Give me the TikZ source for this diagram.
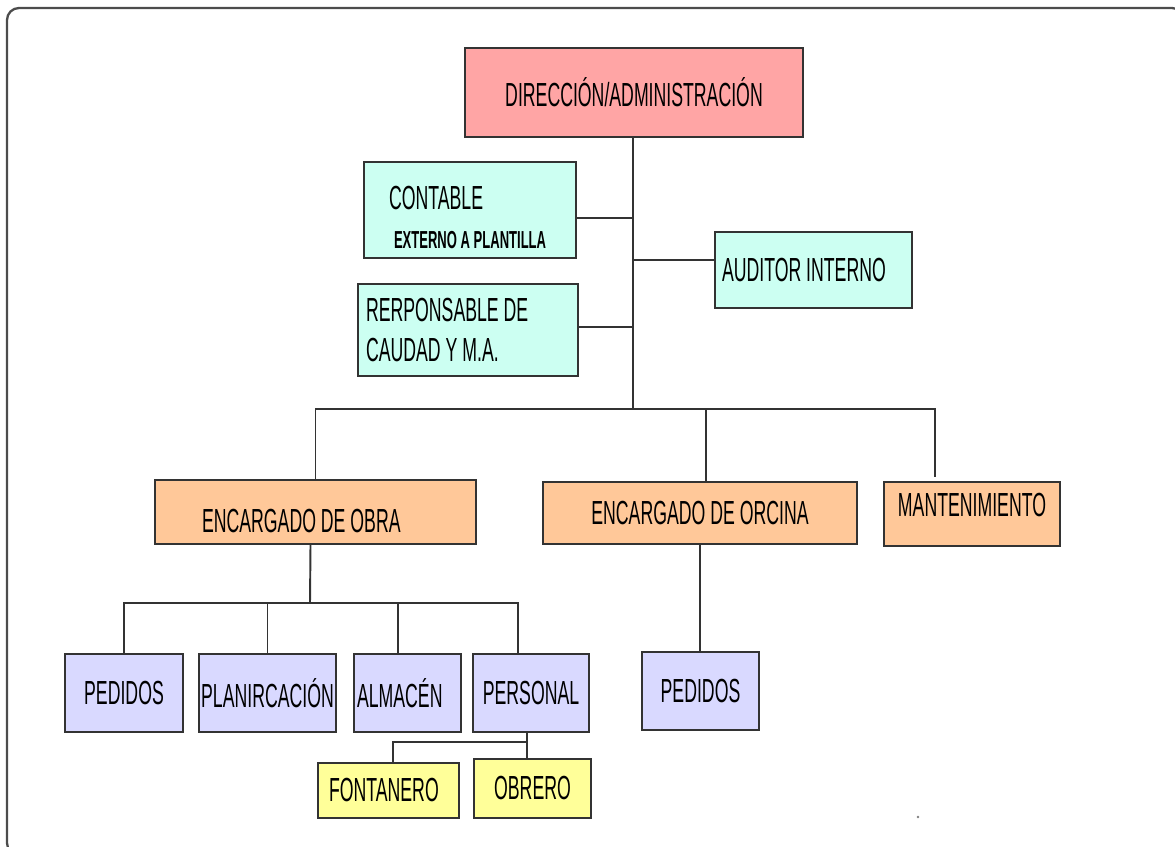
\documentclass[tikz,border=0pt]{standalone}
\usepackage{fontspec}
\setmainfont[FakeStretch=0.53]{Liberation Sans}

\definecolor{dirpink}{HTML}{FFA5A5}
\definecolor{staffmint}{HTML}{CCFFF2}
\definecolor{leadpeach}{HTML}{FFC899}
\definecolor{unitlilac}{HTML}{D9D9FF}
\definecolor{workyellow}{HTML}{FFFF99}
\definecolor{inkgray}{HTML}{333333}

\tikzset{
    box/.style={draw=inkgray, line width=1.1pt, inner sep=0pt, font=\fontsize{19}{23}\selectfont},
    link/.style={draw=inkgray, line width=1.1pt},
    frame/.style={draw=black!70, line width=1.3pt, rounded corners=0.24cm}
}

\begin{document}
\begin{tikzpicture}[x=0.02cm, y=-0.02cm]
    \clip (0,0) rectangle (1175,847);
    \draw[frame] (7,8) rectangle (1184,855);

    \node[box, fill=dirpink, minimum width=6.76cm, minimum height=1.78cm] (dir) at (634,92.5) {\raisebox{-0.08cm}{DIRECCIÓN/ADMINISTRACIÓN}};

    \node[box, fill=staffmint, align=flush left, text width=3.24cm, inner xsep=0.5cm, minimum height=1.92cm] (cont) at (470,210) {\rule{0pt}{22pt}CONTABLE\\[-1pt]{\fontsize{14}{16}\selectfont\bfseries\hspace*{0.1cm}EXTERNO A PLANTILLA}};
    \node[box, fill=staffmint, align=flush left, text width=3.66cm, inner xsep=0.14cm, minimum height=1.52cm] (aud) at (813.5,270) {AUDITOR INTERNO};
    \node[box, fill=staffmint, align=flush left, text width=4.08cm, inner xsep=0.16cm, minimum height=1.84cm] (resp) at (468,330) {RERPONSABLE DE\\CAUDAD Y M.A.};

    \node[box, fill=leadpeach, align=flush left, text width=4.54cm, inner xsep=0.94cm, minimum height=1.28cm] (obra) at (315.5,512) {\rule{0pt}{23pt}ENCARGADO DE OBRA};
    \node[box, fill=leadpeach, minimum width=6.28cm, minimum height=1.24cm] (ofic) at (700,513) {ENCARGADO DE ORCINA};
    \node[box, fill=leadpeach, minimum width=3.52cm, minimum height=1.28cm] (mant) at (972,514) {\raisebox{0.36cm}{MANTENIMIENTO}};

    \node[box, fill=unitlilac, minimum width=2.36cm, minimum height=1.56cm] (ped1) at (124,693) {PEDIDOS};
    \node[box, fill=unitlilac, minimum width=2.74cm, minimum height=1.56cm] (plan) at (267.5,693) {PLANIRCACIÓN};
    \node[box, fill=unitlilac, align=flush left, text width=2.02cm, inner xsep=0.06cm, minimum height=1.56cm] (alm) at (407.5,693) {ALMACÉN};
    \node[box, fill=unitlilac, minimum width=2.32cm, minimum height=1.56cm] (pers) at (531,693) {PERSONAL};
    \node[box, fill=unitlilac, minimum width=2.34cm, minimum height=1.56cm] (ped2) at (700.5,691) {PEDIDOS};

    \node[box, fill=workyellow, align=flush left, text width=2.38cm, inner xsep=0.22cm, minimum height=1.10cm] (fon) at (388.5,790.5) {FONTANERO};
    \node[box, fill=workyellow, minimum width=2.34cm, minimum height=1.18cm] (obr) at (532.5,788.5) {OBRERO};

    \coordinate (hub) at (633,409);
    \coordinate (manttop) at (935,477);
    \coordinate (obus) at (310,603);
    \coordinate (pbus) at (527,742);

    \draw[link] (hub |- dir.south) -- (hub);
    \draw[link] ([yshift=-0.16cm]cont.east) -| (hub);
    \draw[link] ([yshift=0.2cm]aud.west) -| (hub);
    \draw[link] ([yshift=0.06cm]resp.east) -| (hub);

    \draw[link] (obra.north) |- (hub) -| (manttop);
    \draw[link] ([xshift=0.12cm]ofic.north) |- (hub);

    \draw[link] ([xshift=-0.1cm]obra.south) -- (obus);
    \draw[link] (ped1.north) |- (obus) -| ([xshift=-0.26cm]pers.north);
    \draw[link] (plan.north) |- (obus);
    \draw[link] ([xshift=-0.19cm]alm.north) |- (obus);

    \draw[link] ([xshift=-0.08cm]pers.south) -- (pbus);
    \draw[link] ([xshift=0.09cm]fon.north) |- (pbus) -- ([xshift=-0.11cm]obr.north);

    \draw[link] (ofic.south) -- (ofic.south |- ped2.north);

    \fill[black!50] (918,817) circle (0.8pt);
\end{tikzpicture}
\end{document}
